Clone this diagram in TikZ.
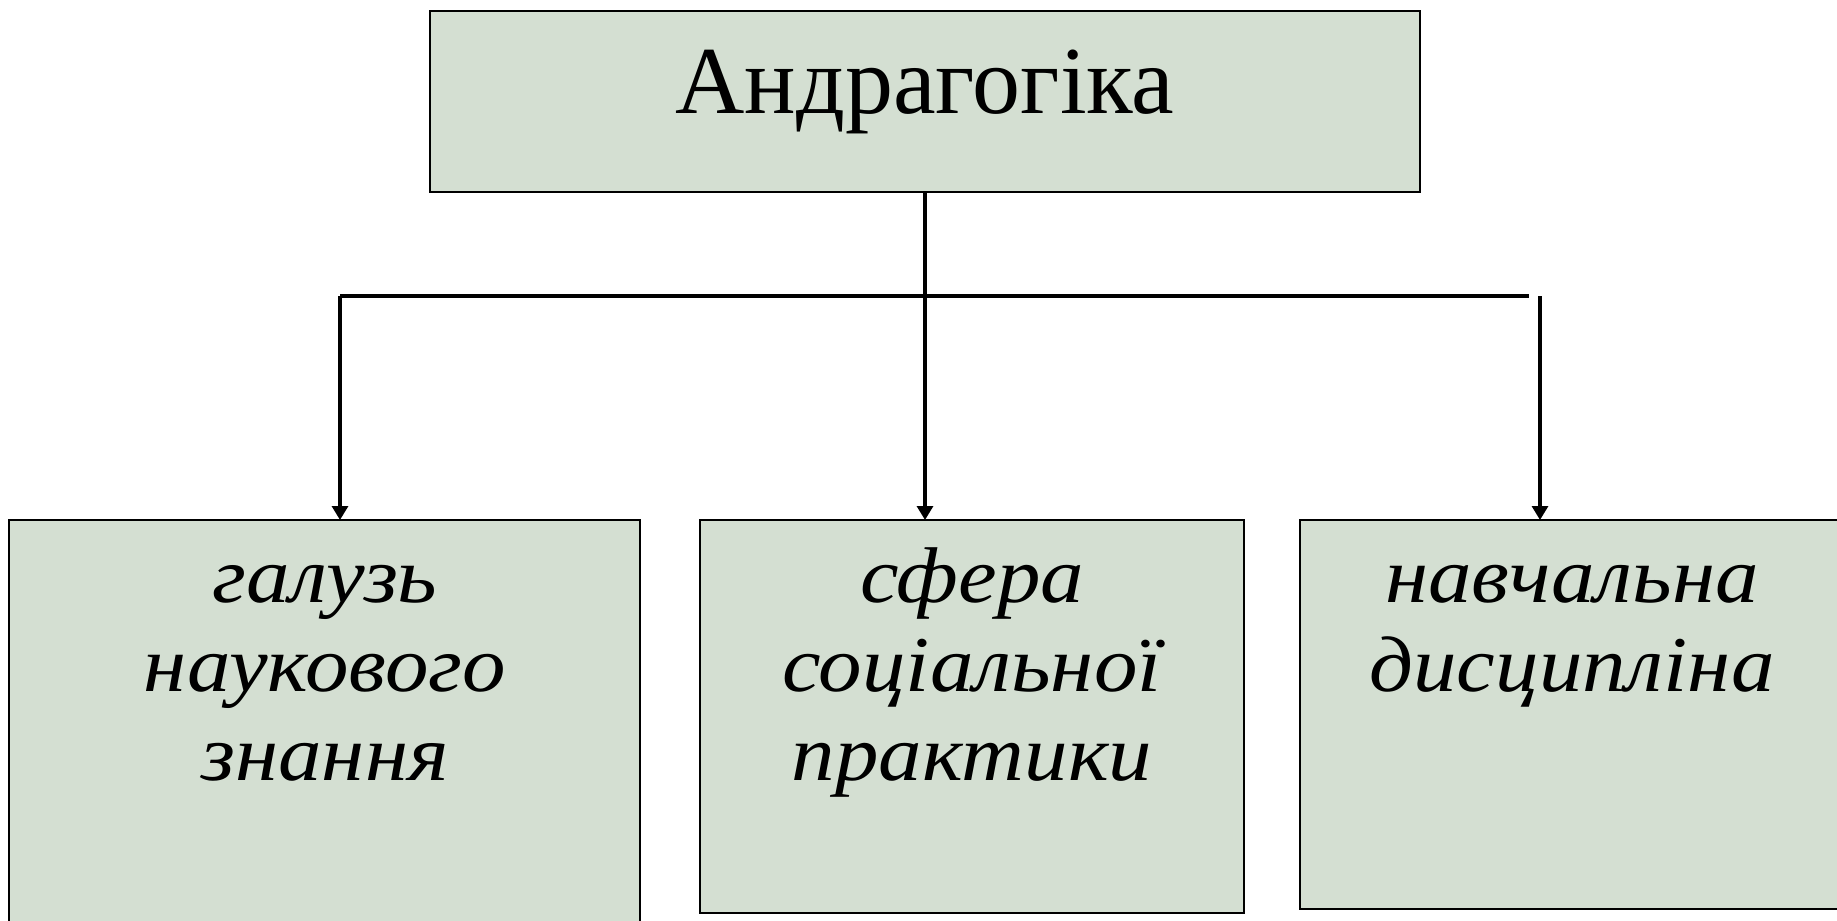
\documentclass[tikz,border=0pt]{standalone}
\usepackage{fontspec}
\setmainfont{Liberation Serif}
\newfontfamily\lowfont[FakeStretch=1.1]{Liberation Serif}
\usetikzlibrary{arrows.meta}
\definecolor{boxfill}{RGB}{212,223,210}
\tikzset{
  box/.style={draw=black, fill=boxfill, line width=1pt, inner sep=0pt, outer sep=0pt, rectangle},
  conn/.style={draw=black, line width=1.6pt},
  arr/.style={conn, -{Triangle[width=8pt,length=7pt]}},
  toptext/.style={inner sep=0pt, anchor=base, font=\fontsize{48}{56}\selectfont},
  lowtext/.style={inner sep=0pt, anchor=base, align=center, font=\lowfont\fontsize{39.5}{44.5}\selectfont\itshape},
}
\begin{document}
\begin{tikzpicture}[x=0.5pt, y=-0.5pt]
\useasboundingbox (0,0) rectangle (1837,921);
\clip (0,0) rectangle (1837,921);
\fill[white] (0,0) rectangle (1837,921);
% boxes
\node[box, minimum width=495pt, minimum height=90.75pt] (top) at (925,101.25) {};
\node[box, minimum width=315.3pt, minimum height=210pt] (b1) at (324.7,730) {};
\node[box, minimum width=272pt, minimum height=196.5pt] (b2) at (972,716.5) {};
\node[box, minimum width=272pt, minimum height=194.5pt] (b3) at (1572,714.5) {};
% texts (base anchor = baseline of the last line)
\node[toptext] (ttop) at (925,113) {Андрагогіка};
\node[lowtext] (t1) at (325,780) {галузь\\наукового\\знання};
\node[lowtext] (t2) at (972,780) {сфера\\соціальної\\практики};
\node[lowtext] (t3) at (1572,691) {навчальна\\дисципліна};
% connectors
\coordinate (hl) at (340,295.7);
\coordinate (hr) at (1529,295.7);
\coordinate (rv) at (1540,296);
\draw[conn, line width=2pt] (hl) -- (hr);
\draw[arr] (top.south) -- (top.south |- b2.north);
\draw[arr] (hl) -- (hl |- b1.north);
\draw[arr] (rv) -- (rv |- b3.north);
\end{tikzpicture}
\end{document}
